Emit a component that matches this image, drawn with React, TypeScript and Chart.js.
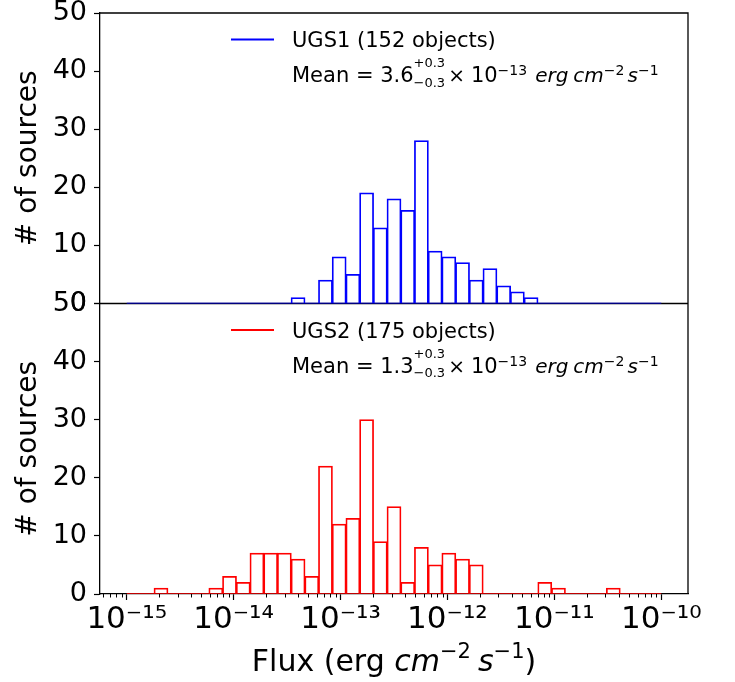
import { useEffect, useRef } from 'react';
import { Chart, registerables } from 'chart.js';

Chart.register(...registerables);

// ---------- data ----------
const FLUX_MIN_EXP = -15;
const FLUX_MAX_EXP = -10;
const BIN_COUNT = 39;
const AXIS_MIN_EXP = -15.25;
const AXIS_MAX_EXP = -9.75;
const X_TICK_EXPONENTS = [-15, -14, -13, -12, -11, -10];
const Y_MIN = 0;
const Y_MAX = 50;
const Y_STEP = 10;

const UGS1_COUNTS = [
  0, 0, 0, 0, 0, 0, 0, 0, 0, 0, 0, 0, 1, 0, 4, 8, 5, 19, 13, 18, 16, 28, 9, 8, 7, 4, 6, 3, 2, 1,
  0, 0, 0, 0, 0, 0, 0, 0, 0,
];
const UGS2_COUNTS = [
  0, 0, 1, 0, 0, 0, 1, 3, 2, 7, 7, 7, 6, 3, 22, 12, 13, 30, 9, 15, 2, 8, 5, 7, 6, 5, 0, 0, 0, 0,
  2, 1, 0, 0, 0, 1, 0, 0, 0,
];

const PANEL_LABELS = ['UGS1 (152 objects)', 'UGS2 (175 objects)'];
const MEAN_VALUES = ['3.6', '1.3'];
const MEAN_ERR_PLUS = ['+0.3', '+0.3'];
const MEAN_ERR_MINUS = ['\u22120.3', '\u22120.3'];
const MEAN_EXPONENTS = ['\u221213', '\u221213'];
const SERIES_COLORS = ['#0000ff', '#ff0000'];
const Y_TITLE = '# of sources';

const BIN_EDGES = Array.from(
  { length: BIN_COUNT + 1 },
  (_, i) => 10 ** (FLUX_MIN_EXP + (i * (FLUX_MAX_EXP - FLUX_MIN_EXP)) / BIN_COUNT)
);
const BIN_CENTERS = BIN_EDGES.slice(0, -1).map((e, i) => Math.sqrt(e * BIN_EDGES[i + 1]));

// ---------- helpers ----------
const FONT = 'DejaVu Sans';
const SUP: Record<string, string> = {
  '-': '\u207B', '0': '\u2070', '1': '\u00B9', '2': '\u00B2', '3': '\u00B3', '4': '\u2074',
  '5': '\u2075', '6': '\u2076', '7': '\u2077', '8': '\u2078', '9': '\u2079',
};
const toSup = (n: number) => String(n).split('').map((c) => SUP[c] ?? c).join('');

type Piece = {
  text: string;
  size: number;
  italic?: boolean;
  dy?: number;
  gap?: number;
  sub?: string;
  subDy?: number;
};

function drawPieces(ctx: CanvasRenderingContext2D, x: number, y: number, pieces: Piece[], draw = true) {
  let cx = x;
  for (const p of pieces) {
    ctx.font = `${p.italic ? 'italic ' : ''}${p.size}px "${FONT}"`;
    let w = ctx.measureText(p.text).width;
    if (draw) ctx.fillText(p.text, cx, y + (p.dy || 0));
    if (p.sub) {
      const w2 = ctx.measureText(p.sub).width;
      if (draw) ctx.fillText(p.sub, cx, y + (p.subDy || 0));
      w = Math.max(w, w2);
    }
    cx += w + (p.gap || 0);
  }
  return cx - x;
}

const framePlugin = {
  id: 'frame',
  beforeDatasetsDraw(chart: any) {
    const { ctx, chartArea } = chart;
    const { left, right, top, bottom } = chartArea;
    const mid = chart.scales.yBot.top;
    ctx.save();
    ctx.strokeStyle = '#000';
    ctx.lineWidth = 1.3;
    ctx.beginPath();
    ctx.moveTo(left, top);
    ctx.lineTo(right, top);
    ctx.lineTo(right, bottom);
    ctx.moveTo(left, mid);
    ctx.lineTo(right, mid);
    ctx.stroke();
    ctx.restore();
  },
};

const decorPlugin = {
  id: 'decor',
  afterDraw(chart: any) {
    const { ctx, chartArea } = chart;
    const xs = chart.scales.x;
    // minor log ticks
    ctx.save();
    ctx.strokeStyle = '#000';
    ctx.lineWidth = 1;
    ctx.beginPath();
    for (let e = FLUX_MIN_EXP - 1; e <= FLUX_MAX_EXP; e++) {
      for (let m = 2; m <= 9; m++) {
        const v = m * 10 ** e;
        if (v < 10 ** AXIS_MIN_EXP || v > 10 ** AXIS_MAX_EXP) continue;
        const px = Math.round(xs.getPixelForValue(v)) + 0.5;
        ctx.moveTo(px, chartArea.bottom);
        ctx.lineTo(px, chartArea.bottom + 3.5);
      }
    }
    ctx.stroke();

    // legends
    const panels = [chart.scales.yTop, chart.scales.yBot];
    panels.forEach((s: any, i: number) => {
      const top = s.top;
      const lx = chartArea.left;
      ctx.strokeStyle = SERIES_COLORS[i];
      ctx.lineWidth = 2;
      ctx.beginPath();
      ctx.moveTo(lx + 131, top + 26.5);
      ctx.lineTo(lx + 174, top + 26.5);
      ctx.stroke();
      ctx.fillStyle = '#000';
      ctx.textAlign = 'left';
      ctx.textBaseline = 'alphabetic';
      ctx.font = `21px "${FONT}"`;
      ctx.fillText(PANEL_LABELS[i], lx + 192, top + 34);
      drawPieces(ctx, lx + 192, top + 69, [
        { text: `Mean = ${MEAN_VALUES[i]}`, size: 21 },
        { text: MEAN_ERR_PLUS[i], size: 13, dy: -15, sub: MEAN_ERR_MINUS[i], subDy: 4.5, gap: 3 },
        { text: '\u00D7', size: 20, gap: 6 },
        { text: '10', size: 21 },
        { text: MEAN_EXPONENTS[i], size: 14, dy: -7, gap: 8 },
        { text: 'erg', size: 20, italic: true, gap: 5 },
        { text: 'cm', size: 20, italic: true },
        { text: '\u22122', size: 14, dy: -7, gap: 3 },
        { text: 's', size: 20, italic: true },
        { text: '\u22121', size: 14, dy: -7 },
      ]);
    });

    // x-axis title
    const titlePieces: Piece[] = [
      { text: 'Flux (erg ', size: 30 },
      { text: 'cm', size: 30, italic: true },
      { text: '\u22122', size: 21, dy: -13, gap: 7 },
      { text: 's', size: 30, italic: true },
      { text: '\u22121', size: 21, dy: -13 },
      { text: ')', size: 30 },
    ];
    const w = drawPieces(ctx, 0, 0, titlePieces, false);
    const cx = (chartArea.left + chartArea.right) / 2;
    ctx.fillStyle = '#000';
    drawPieces(ctx, cx - w / 2, chartArea.bottom + 77, titlePieces);
    ctx.restore();
  },
};

function yAxis(stackWeight: number) {
  return {
    type: 'linear',
    position: 'left',
    stack: 'panels',
    stackWeight,
    min: Y_MIN,
    max: Y_MAX,
    beginAtZero: true,
    ticks: {
      stepSize: Y_STEP,
      autoSkip: false,
      color: '#000',
      padding: 7,
      font: { family: FONT, size: 27 },
    },
    grid: {
      display: true,
      drawOnChartArea: false,
      drawTicks: true,
      tickLength: 6,
      tickColor: '#000',
      tickWidth: 1.2,
    },
    border: { display: true, color: '#000', width: 1.3 },
    title: {
      display: true,
      text: Y_TITLE,
      color: '#000',
      font: { family: FONT, size: 28 },
      padding: { top: 12, bottom: 0 },
    },
    afterFit: (s: any) => {
      s.width = 100;
      s.paddingTop = 0;
      s.paddingBottom = 0;
    },
  };
}

export default function App() {
  const ref = useRef<HTMLCanvasElement | null>(null);

  useEffect(() => {
    if (!ref.current) return;
    const barCommon = {
      type: 'bar' as const,
      xAxisID: 'x',
      backgroundColor: 'rgba(0,0,0,0)',
      borderWidth: 0.75,
      inflateAmount: 0.5,
      grouped: false,
      barPercentage: 1,
      categoryPercentage: 1,
    };
    const baseline = (color: string, axis: string) => ({
      type: 'line' as const,
      xAxisID: 'x',
      yAxisID: axis,
      data: [
        { x: BIN_EDGES[0], y: 0 },
        { x: BIN_EDGES[BIN_COUNT], y: 0 },
      ],
      borderColor: color,
      borderWidth: 1.4,
      pointRadius: 0,
      fill: false,
    });

    const chart = new Chart(ref.current, {
      type: 'bar',
      data: {
        datasets: [
          {
            ...barCommon,
            label: 'UGS1',
            yAxisID: 'yTop',
            borderColor: SERIES_COLORS[0],
            data: BIN_CENTERS.map((x, i) => ({ x, y: UGS1_COUNTS[i] })),
          },
          {
            ...barCommon,
            label: 'UGS2',
            yAxisID: 'yBot',
            borderColor: SERIES_COLORS[1],
            data: BIN_CENTERS.map((x, i) => ({ x, y: UGS2_COUNTS[i] })),
          },
          baseline(SERIES_COLORS[0], 'yTop'),
          baseline(SERIES_COLORS[1], 'yBot'),
        ] as any,
      },
      options: {
        animation: false,
        responsive: false,
        events: [],
        layout: { padding: { top: 13, right: 47, left: 0, bottom: 0 } },
        plugins: { legend: { display: false }, tooltip: { enabled: false }, title: { display: false } },
        scales: {
          x: {
            type: 'logarithmic',
            position: 'bottom',
            min: 10 ** AXIS_MIN_EXP,
            max: 10 ** AXIS_MAX_EXP,
            bounds: 'data',
            offset: false,
            afterBuildTicks: (s: any) => {
              s.ticks = X_TICK_EXPONENTS.map((e) => ({ value: 10 ** e, major: true }));
            },
            ticks: {
              autoSkip: false,
              maxRotation: 0,
              color: '#000',
              padding: 1,
              font: { family: FONT, size: 31 },
              callback: (v: any) => '10' + toSup(Math.round(Math.log10(Number(v)))),
            },
            grid: {
              display: true,
              offset: false,
              drawOnChartArea: false,
              drawTicks: true,
              tickLength: 6,
              tickColor: '#000',
              tickWidth: 1.2,
            },
            border: { display: true, color: '#000', width: 1.3 },
            title: { display: false },
            afterFit: (s: any) => {
              s.height = 88;
              s.paddingLeft = 0;
              s.paddingRight = 0;
            },
          },
          yBot: yAxis(1),
          yTop: yAxis(1),
        } as any,
      },
      plugins: [framePlugin, decorPlugin],
    });
    return () => chart.destroy();
  }, []);

  return (
    <div style={{ position: 'absolute', left: 0, top: 0, width: 735, height: 682, background: '#fff' }}>
      <canvas ref={ref} width={735} height={682} style={{ width: 735, height: 682 }} />
    </div>
  );
}
